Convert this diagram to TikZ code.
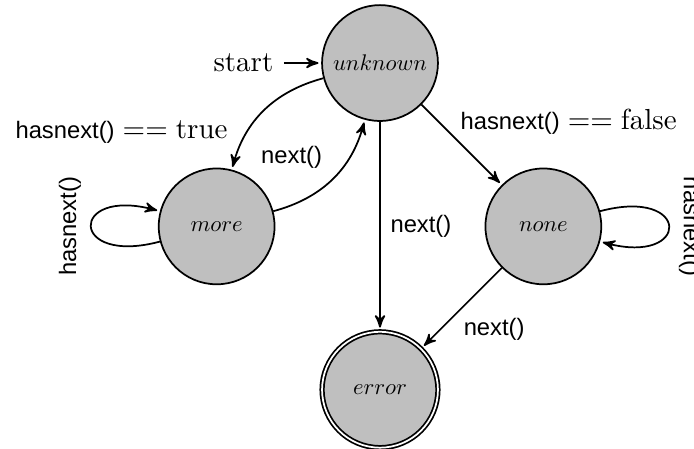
\documentclass[tikz,border=0pt]{standalone}
\usepackage{fontspec}
\setsansfont{Liberation Sans}[Scale=0.82]
\usetikzlibrary{automata,arrows,positioning}
\begin{document}
\begin{tikzpicture}[->,>=stealth',shorten >=1pt,auto,semithick,
        every state/.style={fill=gray!50,scale=0.78,minimum size=1.8cm}]
    \useasboundingbox (-4.606,-4.667) rectangle (3.806,0.764);
    \node[state] (unknown) at (0, 0) {$unknown$};
    \node[state] (more) at (-1.98, -1.98) {$more$};
    \node[state] (none) at (1.98, -1.98) {$none$};
    \node[state, accepting] (error) at (0, -3.96) {$error$};
    \node (start) [left=3ex of unknown] {start};
    \draw (start) -- (unknown);
    \path (unknown) edge[bend right] node[below left, xshift=-9pt] {$\textsf{hasnext()} == \mathrm{true}$} (more)
          (unknown) edge node[xshift=-4pt] {$\textsf{hasnext()} == \mathrm{false}$} (none)
          (unknown) edge node {\textsf{next()}} (error)
          (more) edge[bend right] node {\textsf{next()}} (unknown)
          (more) edge[loop left] node[sloped, above] {\textsf{hasnext()}} (more)
          (none) edge[loop right] node[sloped, above] {\textsf{hasnext()}} (none)
          (none) edge node[xshift=-3pt] {\textsf{next()}} (error);
\end{tikzpicture}
\end{document}
